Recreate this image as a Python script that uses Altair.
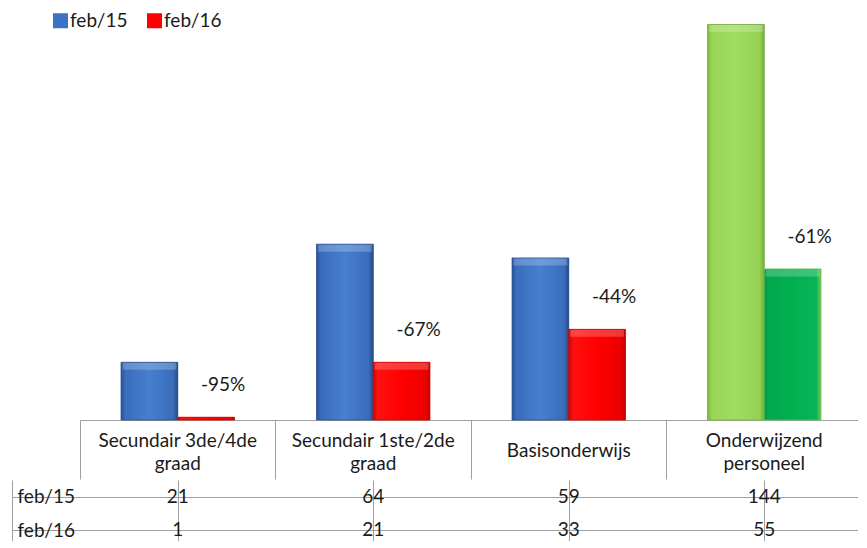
import altair as alt
import pandas as pd

# ---- data ----
categories = ["Secundair 3de/4de graad", "Secundair 1ste/2de graad", "Basisonderwijs", "Onderwijzend personeel"]
series = ["feb/15", "feb/16"]
feb15 = [21, 64, 59, 144]
feb16 = [1, 21, 33, 55]
change_labels = ["-95%", "-67%", "-44%", "-61%"]
highlight_category = "Onderwijzend personeel"

# ---- styling ----
FONT = "Lato"
TXT = "#1a1a1a"
LINE = "#a0a0a0"
BLUE, RED = "#3d72c2", "#ff0000"

def grad(stops):
    return alt.LinearGradient(
        gradient="linear", x1=0, x2=1, y1=0, y2=0,
        stops=[alt.GradientStop(offset=o, color=c) for o, c in stops],
    )

g_blue = grad([(0, "#2b5393"), (0.08, "#3a6dbc"), (0.5, "#4680cf"), (0.92, "#3a6cba"), (1, "#264a85")])
g_red = grad([(0, "#d80000"), (0.08, "#ff1010"), (0.5, "#ff0000"), (0.92, "#ec0000"), (1, "#c00000")])
g_lgreen = grad([(0, "#7cba3e"), (0.08, "#99d656"), (0.5, "#a0dc5e"), (0.92, "#94d052"), (1, "#74b036")])
g_dgreen = grad([(0, "#009a46"), (0.08, "#00a84e"), (0.5, "#00b050"), (0.92, "#08b458"), (1, "#7cc858")])

# ---- tables ----
bars_df = pd.DataFrame({
    "category": categories * 2,
    "series": [s for s in series for _ in categories],
    "value": feb15 + feb16,
})
pct_df = pd.DataFrame({
    "category": categories,
    "series": [series[1]] * len(categories),
    "value": feb16,
    "label": change_labels,
})
rows_df = bars_df.copy()

x_scale = alt.Scale(domain=categories, paddingInner=0, paddingOuter=0)
xoff_scale = alt.Scale(domain=series, paddingInner=0, paddingOuter=0.724)
y_scale = alt.Scale(domain=[0, 150])

header_expr = ("indexof(datum.label, ' ') < 0 ? datum.label : "
               "[substring(datum.label, 0, lastindexof(datum.label, ' ')), "
               "substring(datum.label, lastindexof(datum.label, ' ') + 1)]")

x_bars = alt.X(
    "category:N", scale=x_scale, sort=categories, title=None,
    axis=alt.Axis(
        orient="bottom", domain=True, domainColor=LINE, ticks=True, tickSize=59,
        tickColor=LINE, bandPosition=0, grid=False, labelExpr=header_expr, labelAngle=0,
        labelPadding={"condition": {"test": "indexof(datum.label, ' ') < 0", "value": -29}, "value": -39},
        labelBaseline="middle", labelAlign="center",
        labelLineHeight=23, labelFontSize=19, labelColor=TXT, labelFont=FONT,
        labelOverlap=False, labelFlush=False, labelLimit=300,
    ),
)
y_bars = alt.Y("value:Q", scale=y_scale, axis=None)
xoff = alt.XOffset("series:N", scale=xoff_scale)

base = alt.Chart(bars_df)

legend_layer = base.mark_bar().encode(
    x=x_bars, y=y_bars, xOffset=xoff,
    color=alt.Color(
        "series:N",
        scale=alt.Scale(domain=series, range=[BLUE, RED]),
        legend=alt.Legend(
            orient="none", legendX=-29, legendY=3, direction="horizontal", title=None,
            symbolType="square", symbolSize=225, symbolStrokeWidth=0, symbolOpacity=1,
            labelFont=FONT, labelFontSize=19, labelColor=TXT, labelOffset=0,
            columnPadding=17, padding=0,
        ),
    ),
)

def grad_layer(predicate, fill, edge):
    return base.transform_filter(predicate).mark_bar(
        color=fill, stroke=edge, strokeWidth=1, strokeOpacity=0.8
    ).encode(x=x_bars, y=y_bars, xOffset=xoff)

is_hl = f"datum.category === '{highlight_category}'"
blue_l = grad_layer(f"!({is_hl}) && datum.series === '{series[0]}'", g_blue, "#2a5190")
red_l = grad_layer(f"!({is_hl}) && datum.series === '{series[1]}'", g_red, "#d40000")
lg_l = grad_layer(f"({is_hl}) && datum.series === '{series[0]}'", g_lgreen, "#78b43c")
dg_l = grad_layer(f"({is_hl}) && datum.series === '{series[1]}'", g_dgreen, "#5cbf50")

# light bevel strip along the top of each (tall enough) bar
bevel = base.transform_filter("datum.value >= 5").mark_tick(
    orient="horizontal", thickness=7, size=54, yOffset=4, color="white", opacity=0.22
).encode(x=x_bars, y=y_bars, xOffset=xoff)

pct_layer = alt.Chart(pct_df).mark_text(
    font=FONT, fontSize=19, color=TXT, dx=17, dy=-32, baseline="middle", align="center"
).encode(x=x_bars, y=y_bars, xOffset=xoff, text="label:N")

bars = alt.layer(legend_layer, blue_l, red_l, lg_l, dg_l, bevel, pct_layer).properties(width=782, height=412)

# ---- data table under the chart ----
x_rows = alt.X(
    "category:N", scale=x_scale, sort=categories, title=None,
    axis=alt.Axis(orient="bottom", labels=False, ticks=False, domain=False, grid=True,
                  gridColor=LINE, bandPosition=0),
)
y_rows_a = alt.Y(
    "series:N", scale=alt.Scale(domain=series, paddingInner=0, paddingOuter=0), title=None,
    axis=alt.Axis(orient="left", domain=False, ticks=True, tickSize=68, tickColor=LINE,
                  bandPosition=0, grid=True, gridColor=LINE, labelAlign="left",
                  labelBaseline="middle", labelPadding=-5,
                  labelFontSize=19, labelFont=FONT, labelColor=TXT),
)
y_rows_b = alt.Y(
    "series:N", title=None,
    axis=alt.Axis(orient="left", domain=True, domainColor=LINE, ticks=False, labels=False,
                  grid=False, offset=68),
)
rows_text = alt.Chart(rows_df).mark_text(font=FONT, fontSize=19, color=TXT, baseline="middle").encode(
    x=x_rows, y=y_rows_a, text="value:Q"
)
rows_border = alt.Chart(rows_df).mark_text(opacity=0).encode(
    x=x_rows, y=y_rows_b, text="value:Q"
)
rows = alt.layer(rows_text, rows_border).resolve_axis(y="independent").properties(width=782, height=67)

chart = (
    alt.vconcat(bars, rows, spacing=0)
    .properties(padding={"left": 3, "top": 0, "right": -4, "bottom": -6})
    .configure(font=FONT)
    .configure_view(stroke=None)
)

chart.save("out.html", embed_options={"renderer": "svg", "actions": False})
